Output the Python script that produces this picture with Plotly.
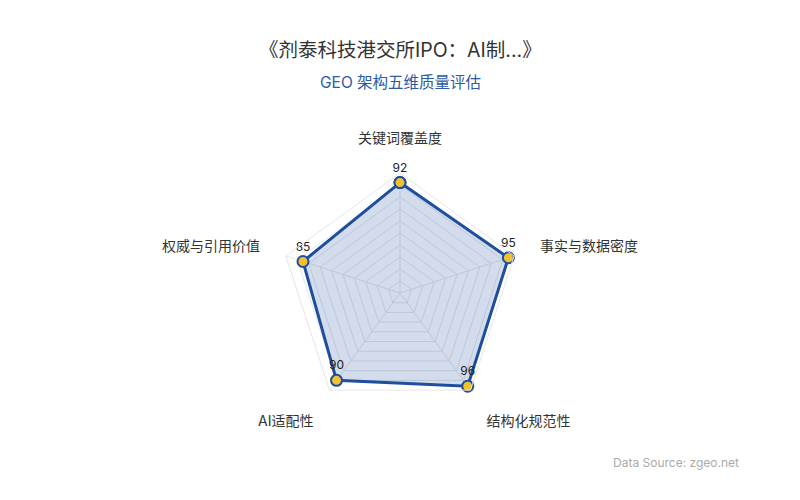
import plotly.graph_objects as go

# 五个维度及得分
dimensions = ["关键词覆盖度", "事实与数据密度", "结构化规范性", "AI适配性", "权威与引用价值"]
scores = [92, 95, 96, 90, 85]

title_text = "《剂泰科技港交所IPO：AI制...》"
subtitle_text = "GEO 架构五维质量评估"
source_text = "Data Source: zgeo.net"

FONT = "Inter, Noto Sans CJK SC, sans-serif"

# 闭合多边形
theta = dimensions + dimensions[:1]
r = scores + scores[:1]
labels = [str(v) for v in scores] + [""]

fig = go.Figure()
fig.add_trace(go.Scatterpolar(
    r=r, theta=theta, mode="lines+markers+text",
    text=labels, textposition="top center",
    textfont=dict(family=FONT, size=12, color="#222222"),
    line=dict(color="#1f4e9e", width=3),
    fill="toself", fillcolor="rgba(31,78,158,0.2)",
    marker=dict(size=11, color="#f2c12e", line=dict(color="#1f4e9e", width=2)),
    hoverinfo="skip", showlegend=False, cliponaxis=False,
))

fig.update_layout(
    width=800, height=500,
    margin=dict(l=0, r=0, t=0, b=0),
    paper_bgcolor="white", plot_bgcolor="white",
    font=dict(family=FONT, color="#333333"),
    polar=dict(
        domain=dict(x=[0.19, 0.79], y=[0.19, 0.67]),
        bgcolor="white",
        gridshape="linear",
        radialaxis=dict(range=[0, 100], dtick=10, showticklabels=False,
                        ticks="", showline=False, gridcolor="#e6e6e6",
                        gridwidth=1),
        angularaxis=dict(direction="clockwise", rotation=90,
                         ticks="outside", ticklen=24, tickcolor="rgba(0,0,0,0)",
                         tickfont=dict(family=FONT, size=14, color="#333333"),
                         gridcolor="#e6e6e6", linecolor="#e6e6e6", linewidth=1),
    ),
    annotations=[
        dict(text=title_text, x=0.49, y=0.916, xref="paper", yref="paper",
             yanchor="middle", showarrow=False,
             font=dict(family=FONT, size=19.5, color="#333333")),
        dict(text=subtitle_text, x=0.49, y=0.852, xref="paper", yref="paper",
             yanchor="middle", showarrow=False,
             font=dict(family=FONT, size=15.5, color="#2b5aa6")),
        dict(text=source_text, x=0.916, y=0.092, xref="paper", yref="paper",
             xanchor="right", yanchor="middle", showarrow=False,
             font=dict(family=FONT, size=12, color="#aaaaaa")),
    ],
)

fig.write_html("out.html")
